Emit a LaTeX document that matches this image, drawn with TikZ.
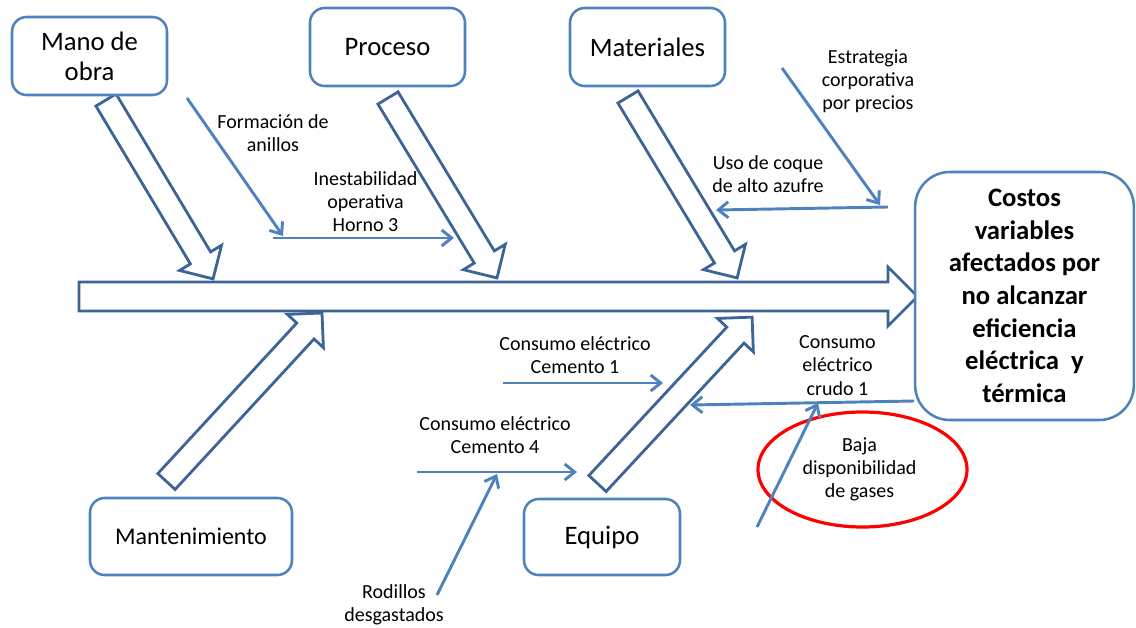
\documentclass[tikz,border=0pt]{standalone}
\usepackage{fontspec}
\setmainfont{Carlito}
\usetikzlibrary{arrows.meta,shapes.geometric}
\definecolor{boxblue}{RGB}{79,129,189}
\definecolor{bonecol}{RGB}{60,100,150}
\definecolor{linecol}{RGB}{79,129,189}
\tikzset{
  catbox/.style={draw=boxblue, line width=1.9pt, rounded corners=11pt, fill=white,
    align=center, font=\fontsize{20}{22.5}\selectfont, inner sep=0pt},
  effectbox/.style={draw=boxblue, line width=1.9pt, rounded corners=26pt, fill=white,
    align=center, font=\fontsize{20}{24.5}\selectfont\bfseries, inner sep=0pt},
  bonestyle/.style={draw=bonecol, line width=2.1pt, fill=white, line join=miter},
  cause/.style={draw=linecol, line width=2.2pt, -{Straight Barb[length=7.5pt,width=12pt]}},
  lbl/.style={align=center, font=\fontsize{15}{17.4}\selectfont, inner sep=0pt},
  ring/.style={draw=red, line width=2.4pt}
}
\newcommand\bonearrow[4]{%
  \begin{scope}[shift={(#1,#2)},rotate=#3]
    \draw[bonestyle] (0,-11.75) -- ({#4-24.5},-11.75) -- ({#4-24.5},-24.5) -- (#4,0)
      -- ({#4-24.5},24.5) -- ({#4-24.5},11.75) -- (0,11.75) -- cycle;
  \end{scope}}
\begin{document}
\begin{tikzpicture}[x=0.75pt,y=-0.75pt]
\useasboundingbox (0,0) rectangle (1136,628);

% spine
\draw[bonestyle] (79,282) -- (888,282) -- (888,267) -- (917.5,296.5) -- (888,326)
  -- (888,311) -- (79,311) -- cycle;

% bones
\bonearrow{106}{100}{-59.1}{208.5}
\bonearrow{388}{98}{-58.8}{210.4}
\bonearrow{628}{97}{-58.9}{211.3}
\bonearrow{166.5}{481.5}{47.3}{229.3}
\bonearrow{597.5}{483.5}{47.1}{227.1}

% category boxes
\node[catbox, minimum width=116.25pt, minimum height=58.5pt] (mano) at (89.5,56) {Mano de\\obra};
\node[catbox, minimum width=116.25pt, minimum height=58.5pt] (proceso) at (387.5,47) {Proceso};
\node[catbox, minimum width=116.25pt, minimum height=58.5pt] (materiales) at (647.5,47) {Materiales};
\node[catbox, minimum width=151.5pt, minimum height=57.75pt, font=\fontsize{18}{21}\selectfont] (mant) at (191,536.5) {Mantenimiento};
\node[catbox, minimum width=117pt, minimum height=57pt] (equipo) at (602,537) {Equipo};
\node[effectbox, minimum width=164pt, minimum height=186pt] (effect) at (1024.5,296)
  {Costos\\variables\\afectados por\\no alcanzar\\eficiencia\\eléctrica\ \ y\\térmica};

% ellipse
\node[ring, ellipse, minimum width=156.75pt, minimum height=86.25pt, inner sep=0pt] (ringnode) at (862.5,469.5) {};

% labels
\node[lbl] (lform) at (273,133) {Formación de\\anillos};
\node[lbl] (linest) at (365.5,201.5) {Inestabilidad\\operativa\\Horno 3};
\node[lbl] (lestr) at (868,81.5) {Estrategia\\corporativa\\por precios};
\node[lbl] (luso) at (768,174) {Uso de coque\\de alto azufre};
\node[lbl] (lc1) at (575,355.5) {Consumo eléctrico\\Cemento 1};
\node[lbl] (lc4) at (495,435) {Consumo eléctrico\\Cemento 4};
\node[lbl] (lcr) at (837.5,365.5) {Consumo\\eléctrico\\crudo 1};
\node[lbl] (lbaja) at (859.5,469.5) {Baja\\disponibilidad\\de gases};
\node[lbl] (lrod) at (394,605) {Rodillos\\desgastados};

% connector coordinates
\coordinate (f1) at (187,98);   \coordinate (f2) at (283,236);
\coordinate (i1) at (273,238);  \coordinate (i2) at (454,238);
\coordinate (e1) at (782,68);   \coordinate (e2) at (880,205);
\coordinate (u1) at (888,207);  \coordinate (u2) at (716,210);
\coordinate (ca1) at (503,383); \coordinate (ca2) at (663,383);
\coordinate (cb1) at (417,472); \coordinate (cb2) at (577,472);
\coordinate (r1) at (437,595);  \coordinate (r2) at (497,474);
\coordinate (k1) at (914,401);  \coordinate (k2) at (690,405);
\coordinate (b1) at (757,527);  \coordinate (b2) at (818,403);

\draw[cause] (i1) -- (i2);
\draw[cause] (f1) -- (f2);
\draw[cause] (u1) -- (u2);
\draw[cause] (e1) -- (e2);
\draw[cause] (ca1) -- (ca2);
\draw[cause] (cb1) -- (cb2);
\draw[cause] (r1) -- (r2);
\draw[cause] (k1) -- (k2);
\draw[cause] (b1) -- (b2);
\end{tikzpicture}
\end{document}
